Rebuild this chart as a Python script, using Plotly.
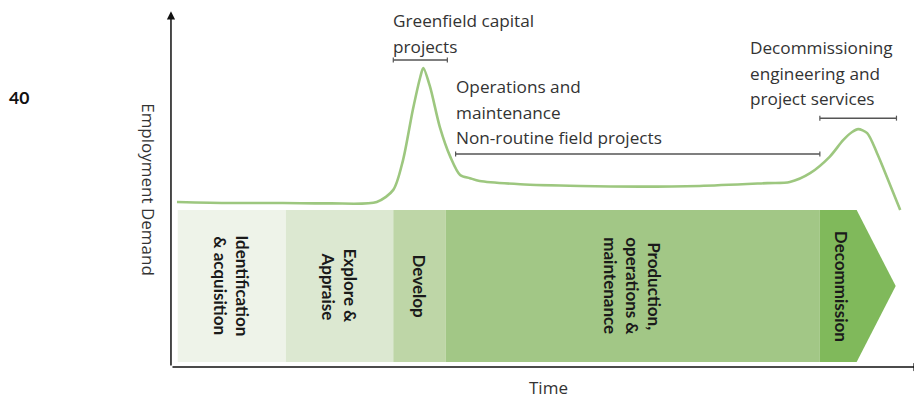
import plotly.graph_objects as go

# time axis: 0..100 between the axis origin and the arrow tip; demand: 0..100 up the y axis
curve_time = [0.8, 7.9, 14.9, 21.2, 27.4, 29.6, 30.9, 32.2, 33.2, 33.6, 34.5, 35.8, 37.2, 38.5,
              39.8, 41.1, 46.5, 54.5, 62.5, 70.4, 79.4, 82.4, 85.1, 87.7, 89.5, 90.7, 91.5,
              92.7, 94.0, 94.8, 97.1]
curve_demand = [46.5, 46.2, 46.2, 46.1, 46.5, 49.9, 58.3, 72.4, 81.7, 84.2, 78.9, 67.6, 59.2, 54.1,
                53.2, 52.4, 51.5, 51.0, 50.8, 51.0, 51.8, 52.1, 54.6, 59.2, 63.9, 66.2, 67.0,
                65.9, 60.3, 56.3, 44.2]

stage_labels = ["Identification<br>& acquisition", "Explore &<br>Appraise", "Develop",
                "Production,<br>operations &<br>maintenance", "Decommission"]
stage_start = [0.9, 15.3, 29.6, 36.6, 86.4]
stage_end = [15.3, 29.6, 36.6, 86.4, 91.3]
arrow_tip = 96.5
stage_colors = ["#eef3e9", "#dce8d1", "#bed6a7", "#a2c786", "#80b95b"]

callout_text = ["Greenfield capital<br>projects",
                "Operations and<br>maintenance<br>Non-routine field projects",
                "Decommissioning<br>engineering and<br>project services"]
callout_x = [29.6, 37.9, 77.1]
callout_top = [97.6, 78.9, 89.9]
bracket_start = [29.6, 37.9, 86.4]
bracket_end = [36.8, 86.4, 96.6]
bracket_level = [86.5, 60.0, 70.1]

BOX_LOW, BOX_HIGH = 1.4, 44.2
box_mid = (BOX_LOW + BOX_HIGH) / 2
line_col = "#9dc77f"
txt_col = "#333333"
txt_font = "Open Sans"

fig = go.Figure()

# stage boxes, last one ends in an arrow tip
for i, (s, e, col) in enumerate(zip(stage_start, stage_end, stage_colors)):
    xs = [s, e, e, s, s]
    ys = [BOX_HIGH, BOX_HIGH, BOX_LOW, BOX_LOW, BOX_HIGH]
    if i == len(stage_start) - 1:
        xs = [s, e, arrow_tip, e, s, s]
        ys = [BOX_HIGH, BOX_HIGH, box_mid, BOX_LOW, BOX_LOW, BOX_HIGH]
    fig.add_trace(go.Scatter(x=xs, y=ys, fill="toself", fillcolor=col, mode="lines",
                             line=dict(width=0, color=col), hoverinfo="skip", showlegend=False))

fig.add_trace(go.Scatter(x=curve_time, y=curve_demand, mode="lines",
                         line=dict(color=line_col, width=2.6, shape="spline", smoothing=0.8),
                         showlegend=False))

annotations = []
# rotated stage labels, one annotation per line so spacing can be controlled
for i, (lab, s, e) in enumerate(zip(stage_labels, stage_start, stage_end)):
    parts = lab.split("<br>")
    n = len(parts)
    nudge = 4 if i == len(stage_labels) - 1 else 0
    for j, p in enumerate(parts):
        shift = ((n - 1) / 2 - j) * 22 + nudge
        annotations.append(dict(x=(s + e) / 2, y=box_mid, text=p, textangle=90, showarrow=False,
                                xshift=shift, font=dict(family="Lato", size=17, color="#1a1a1a",
                                                        weight="bold")))

for txt, x, top in zip(callout_text, callout_x, callout_top):
    for j, p in enumerate(txt.split("<br>")):
        annotations.append(dict(x=x, y=top, text=p, showarrow=False, xanchor="left",
                                yanchor="middle", yshift=-j * 25.5, xshift=-2,
                                font=dict(family=txt_font, size=17.2, color=txt_col)))

shapes = []
for s, e, lv in zip(bracket_start, bracket_end, bracket_level):
    shapes.append(dict(type="line", x0=s, x1=e, y0=lv, y1=lv, line=dict(color="#555555", width=1.5)))
    for xe in (s, e):
        shapes.append(dict(type="line", x0=xe, x1=xe, y0=lv - 0.7, y1=lv + 0.7,
                           line=dict(color="#555555", width=1.2)))

# axes with arrow heads
annotations.append(dict(x=0, y=100.2, ax=0, ay=0, axref="x", ayref="y", text="", showarrow=True,
                        arrowhead=2, arrowsize=1.1, arrowwidth=1.5, arrowcolor="#111111"))
annotations.append(dict(x=99.95, y=0, ax=0, ay=0, axref="x", ayref="y", text="", showarrow=True,
                        arrowhead=2, arrowsize=1.1, arrowwidth=1.5, arrowcolor="#111111"))

annotations.append(dict(x=-3.1, y=49.9, text="Employment Demand", textangle=90, showarrow=False,
                        font=dict(family=txt_font, size=17, color=txt_col)))
annotations.append(dict(x=50.3, y=-5.8, text="Time", showarrow=False,
                        font=dict(family=txt_font, size=17, color=txt_col)))
annotations.append(dict(x=-20.3, y=76.0, text="<b>40</b>", showarrow=False,
                        font=dict(family="Lato", size=17.5, color="#111111")))

# page body has an 8px margin, so the figure is 8px smaller and axes span the whole figure
fig.update_layout(
    width=914, height=391,
    margin=dict(l=0, r=0, t=0, b=0),
    paper_bgcolor="white", plot_bgcolor="white",
    xaxis=dict(range=[-21.7, 100], visible=False, fixedrange=True),
    yaxis=dict(range=[-9.01, 101.13], visible=False, fixedrange=True),
    annotations=annotations, shapes=shapes,
)

fig.write_html("out.html")
